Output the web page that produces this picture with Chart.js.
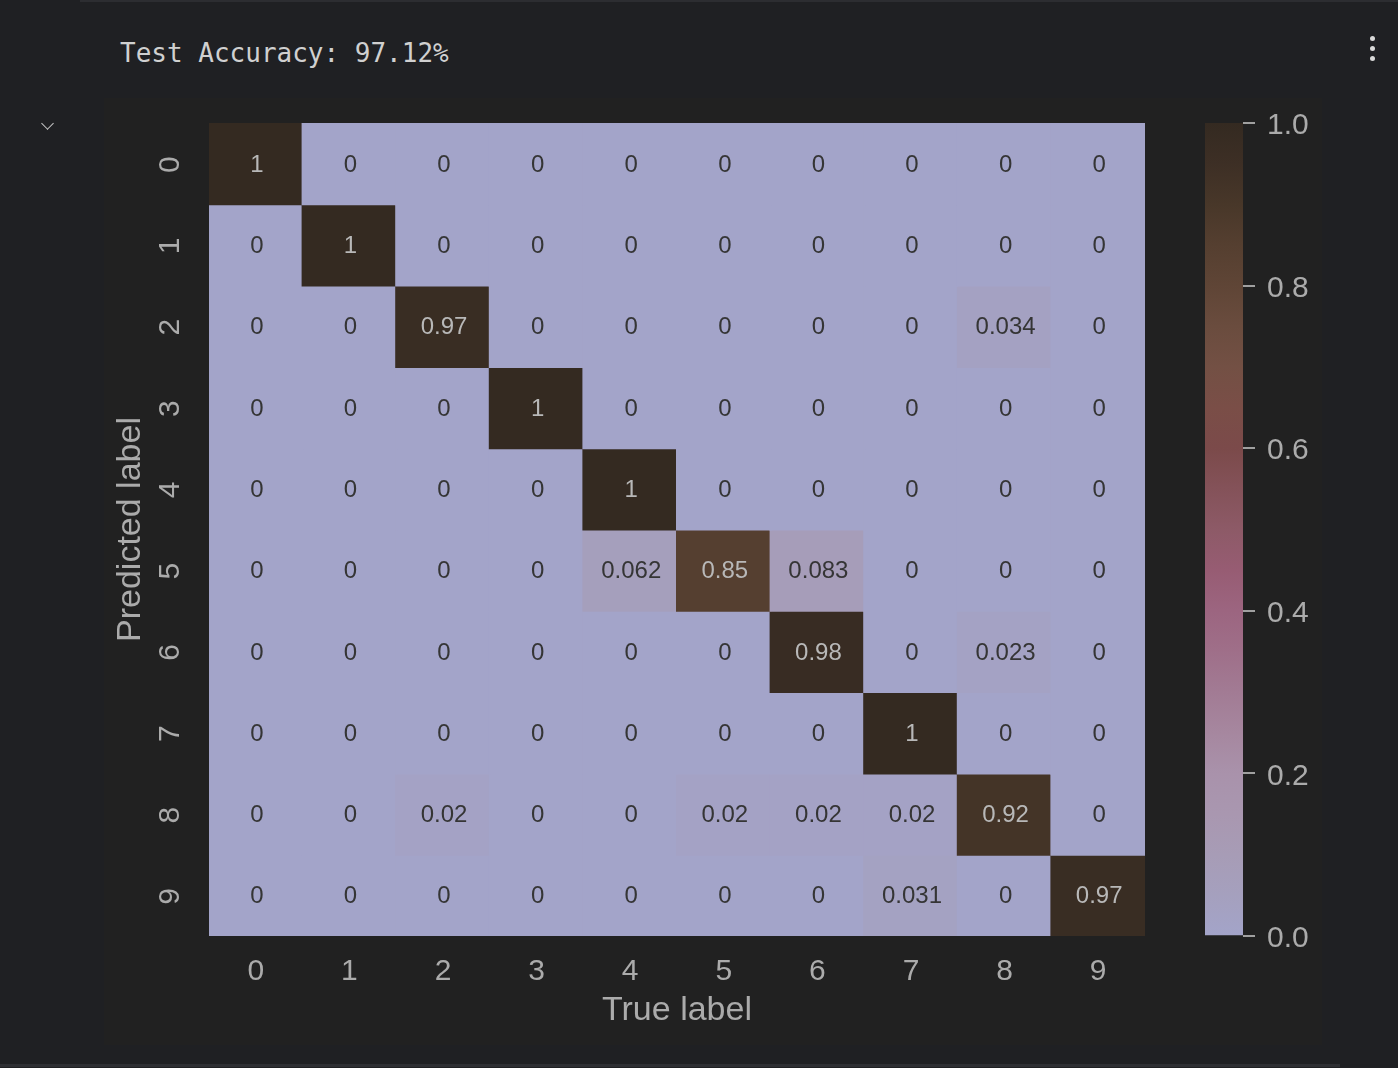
<!DOCTYPE html>
<html><head><meta charset="utf-8">
<script src="https://cdn.jsdelivr.net/npm/chart.js@4.4.1/dist/chart.umd.min.js"></script>
<style>
html,body{margin:0;padding:0;background:#1f2023;width:1398px;height:1068px;overflow:hidden;}
#fig{position:absolute;left:104px;top:98px;width:1218px;height:947px;background:#212121;}
#topline{position:absolute;left:80px;top:0;width:1318px;height:2px;background:#2c2d31;}
#botline{position:absolute;left:0;top:1064px;width:1340px;height:3px;background:#2e2f33;}
#title{position:absolute;left:120px;top:38px;font-family:"DejaVu Sans Mono",monospace;font-size:26px;line-height:30px;color:#d0d0d0;white-space:pre;}
#chev{position:absolute;left:43px;top:119px;width:8px;height:8px;border-right:1.6px solid #c8c8c8;border-bottom:1.6px solid #c8c8c8;transform:rotate(45deg);}
.dot{position:absolute;left:1370px;width:5px;height:5px;border-radius:50%;background:#d8d8d8;}
canvas{position:absolute;left:0;top:0;}
</style></head>
<body>
<div id="topline"></div>
<div id="fig"></div>
<div id="botline"></div>
<div id="title">Test Accuracy: 97.12%</div>
<div id="chev"></div>
<div class="dot" style="top:36px"></div>
<div class="dot" style="top:46px"></div>
<div class="dot" style="top:56px"></div>
<canvas id="hm" width="1398" height="1068"></canvas>
<canvas id="cb" width="1398" height="1068"></canvas>
<script>
// ---- data ----
const trueLabels = ['0','1','2','3','4','5','6','7','8','9'];
const predLabels = ['0','1','2','3','4','5','6','7','8','9'];
const row0 = [1, 0, 0, 0, 0, 0, 0, 0, 0, 0];
const row1 = [0, 1, 0, 0, 0, 0, 0, 0, 0, 0];
const row2 = [0, 0, 0.97, 0, 0, 0, 0, 0, 0.034, 0];
const row3 = [0, 0, 0, 1, 0, 0, 0, 0, 0, 0];
const row4 = [0, 0, 0, 0, 1, 0, 0, 0, 0, 0];
const row5 = [0, 0, 0, 0, 0.062, 0.85, 0.083, 0, 0, 0];
const row6 = [0, 0, 0, 0, 0, 0, 0.98, 0, 0.023, 0];
const row7 = [0, 0, 0, 0, 0, 0, 0, 1, 0, 0];
const row8 = [0, 0, 0.02, 0, 0, 0.02, 0.02, 0.02, 0.92, 0];
const row9 = [0, 0, 0, 0, 0, 0, 0, 0.031, 0, 0.97];
const matrix = [row0,row1,row2,row3,row4,row5,row6,row7,row8,row9];
const cbarMin = 0, cbarMax = 1, cbarStep = 0.2;

// ---- colormap (styling) ----
const cmapPos = [0, 0.05, 0.1, 0.15, 0.2, 0.25, 0.3, 0.35, 0.4, 0.45, 0.5, 0.55, 0.6, 0.65, 0.7, 0.75, 0.8, 0.85, 0.9, 0.95, 1];
const cmapCol = ['#a3a4c9','#a5a0be','#a79cb6','#a997b0','#a992ab','#a6879f','#a27b94','#9f6f89','#9c6580','#975c73','#8d5a67','#845259','#7b4a4a','#7a4e47','#735044','#6a4c3e','#5f4536','#553f30','#483729','#3d2f25','#342a21'];
function hex2rgb(h){return [parseInt(h.substr(1,2),16),parseInt(h.substr(3,2),16),parseInt(h.substr(5,2),16)];}
function cmap(v){
  v = Math.max(0, Math.min(1, v));
  for (let i = 0; i < cmapPos.length - 1; i++) {
    if (v <= cmapPos[i+1]) {
      const t = (v - cmapPos[i]) / (cmapPos[i+1] - cmapPos[i]);
      const a = hex2rgb(cmapCol[i]), b = hex2rgb(cmapCol[i+1]);
      return 'rgb(' + a.map((x,k)=>Math.round(x + (b[k]-x)*t)).join(',') + ')';
    }
  }
  return cmapCol[cmapCol.length-1];
}
function fmt(v){ return String(parseFloat(v.toPrecision(2))); }

const FONT = '"Liberation Sans", Arial, sans-serif';
const axisColor = '#ababab';
const darkText = '#353535';
const lightText = '#b8b8b8';

const datasets = matrix.map((row, r) => ({
  label: predLabels[r],
  data: row.map(() => 1),
  backgroundColor: row.map(v => cmap(v)),
  borderWidth: 0,
  inflateAmount: 1,
  barPercentage: 1,
  categoryPercentage: 1,
  stack: 's'
}));

const annotPlugin = {
  id: 'annot',
  afterDatasetsDraw(chart) {
    const ctx = chart.ctx;
    ctx.save();
    ctx.font = '24px ' + FONT;
    ctx.textAlign = 'center';
    ctx.textBaseline = 'middle';
    chart.data.datasets.forEach((ds, r) => {
      const meta = chart.getDatasetMeta(r);
      meta.data.forEach((el, c) => {
        const v = matrix[r][c];
        ctx.fillStyle = v > 0.5 ? lightText : darkText;
        ctx.fillText(fmt(v), el.x + 1, (el.y + el.base) / 2 + 1.5);
      });
    });
    ctx.restore();
  }
};
const yTickPlugin = {
  id: 'yTicks',
  afterDraw(chart) {
    const ys = chart.scales.y, ctx = chart.ctx;
    ctx.save();
    ctx.font = '30px ' + FONT;
    ctx.fillStyle = axisColor;
    ctx.textAlign = 'center';
    ctx.textBaseline = 'middle';
    predLabels.forEach((lab, i) => {
      const py = ys.getPixelForValue(i + 0.5);
      ctx.save();
      ctx.translate(ys.right - 38, py + 1);
      ctx.rotate(-Math.PI / 2);
      ctx.fillText(lab, 0, 0);
      ctx.restore();
    });
    ctx.restore();
  }
};

new Chart(document.getElementById('hm'), {
  type: 'bar',
  data: { labels: trueLabels, datasets },
  plugins: [annotPlugin, yTickPlugin],
  options: {
    responsive: false, animation: false, events: [],
    layout: { padding: { left: 110, top: 123, right: 253, bottom: 37 } },
    plugins: { legend: { display: false }, tooltip: { enabled: false } },
    scales: {
      x: {
        stacked: true,
        grid: { display: false, drawTicks: false },
        border: { display: false },
        ticks: { color: axisColor, font: { size: 30, family: FONT }, padding: 18, maxRotation: 0 },
        title: { display: true, text: 'True label', color: axisColor, font: { size: 34, family: FONT }, padding: { top: 0, bottom: 0 } },
        afterFit(s) { s.height = 95; }
      },
      y: {
        stacked: true, min: 0, max: 10, reverse: true,
        grid: { display: false, drawTicks: false },
        border: { display: false },
        ticks: { display: false },
        title: { display: true, text: 'Predicted label', color: axisColor, font: { size: 34, family: FONT }, padding: { top: 0, bottom: 0 } },
        afterFit(s) { s.width = 99; }
      }
    }
  }
});

new Chart(document.getElementById('cb'), {
  type: 'bar',
  data: { labels: [''], datasets: [{
    data: [cbarMax],
    borderWidth: 0, barPercentage: 1, categoryPercentage: 1,
    backgroundColor(c) {
      const ca = c.chart.chartArea;
      if (!ca) return cmapCol[0];
      const g = c.chart.ctx.createLinearGradient(0, ca.bottom, 0, ca.top);
      cmapPos.forEach((p, i) => g.addColorStop(p, cmapCol[i]));
      return g;
    }
  }] },
  options: {
    responsive: false, animation: false, events: [],
    layout: { padding: { left: 1205, top: 123, right: 55, bottom: 132 } },
    plugins: { legend: { display: false }, tooltip: { enabled: false } },
    scales: {
      x: { display: false },
      y: {
        position: 'right', min: cbarMin, max: cbarMax,
        ticks: { stepSize: cbarStep, callback: v => Number(v).toFixed(1), color: axisColor, font: { size: 30, family: FONT }, padding: 12, labelOffset: 3 },
        grid: { display: true, drawOnChartArea: false, drawTicks: true, tickLength: 12, color: '#a0a0a0', lineWidth: 2 },
        border: { display: false },
        afterFit(s) { s.width = 100; }
      }
    }
  }
});
</script>
</body></html>
